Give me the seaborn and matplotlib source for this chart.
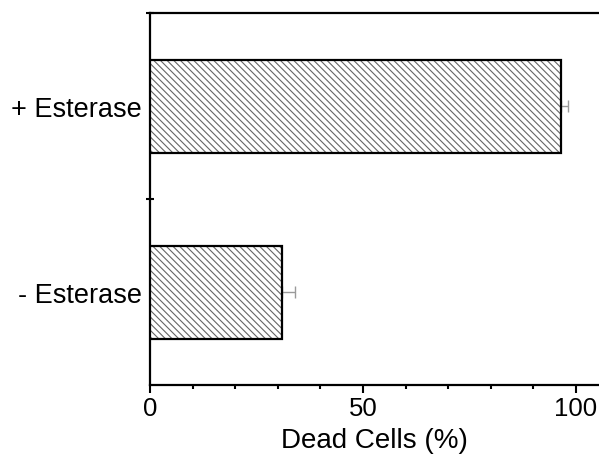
import matplotlib
matplotlib.use("Agg")
import matplotlib.pyplot as plt
import matplotlib.patches as mpatches
import seaborn as sns
import pandas as pd
from matplotlib.ticker import FixedLocator, MultipleLocator

categories = ["+ Esterase", "- Esterase"]
dead_cells = [96.5, 31.0]
errors = [1.7, 3.0]
x_ticks = [0, 50, 100]

sns.set_theme(style="white")
plt.rcParams["font.family"] = ["Liberation Sans", "DejaVu Sans"]
plt.rcParams["hatch.linewidth"] = 0.8
plt.rcParams["text.color"] = "black"
plt.rcParams["axes.labelcolor"] = "black"
plt.rcParams["xtick.color"] = "black"
plt.rcParams["ytick.color"] = "black"

df = pd.DataFrame({"cond": categories, "val": dead_cells})

fig = plt.figure(figsize=(5.99, 4.64), dpi=100)
ax = fig.add_axes([150 / 599, 1 - 386 / 464, 1 - 150 / 599, (386 - 14) / 464])

sns.barplot(data=df, x="val", y="cond", orient="h", order=categories,
            color="white", width=0.5, edgecolor="#707070", linewidth=0,
            errorbar=None, ax=ax, zorder=3)
for p in list(ax.patches):
    p.set_hatch("\\\\\\\\\\")
    p.set_facecolor("white")
    p.set_edgecolor("#666666")
    p.set_linewidth(0)
    outline = mpatches.Rectangle(p.get_xy(), p.get_width(), p.get_height(),
                                 fill=False, edgecolor="black", linewidth=1.6,
                                 zorder=4)
    ax.add_patch(outline)

ypos = list(range(len(categories)))
ax.errorbar(dead_cells, ypos, xerr=[[0] * len(errors), errors], fmt="none",
            ecolor="#9a9a9a", elinewidth=1.0, capsize=4.5, capthick=1.0, zorder=2)

ax.set_xlim(0, 105.4)
ax.set_ylim(1.5, -0.5)
ax.set_xticks(x_ticks)
ax.set_xticklabels([str(t) for t in x_ticks], fontsize=18.5)
ax.xaxis.set_minor_locator(MultipleLocator(10))
ax.set_yticks(ypos)
ax.set_yticklabels(categories, fontsize=19.5)
ax.yaxis.set_minor_locator(FixedLocator([-0.5, 0.5]))
ax.tick_params(axis="x", which="major", direction="out", length=6, width=1.5,
               bottom=True, pad=2)
ax.tick_params(axis="x", which="minor", direction="out", length=3, width=1.5,
               bottom=True)
ax.tick_params(axis="y", which="major", length=0, pad=6)
ax.tick_params(axis="y", which="minor", direction="inout", length=6, width=1.5,
               left=True)
ax.set_xlabel("Dead Cells (%)", fontsize=20, labelpad=5)
ax.set_ylabel("")

for side in ["left", "bottom", "top"]:
    ax.spines[side].set_visible(True)
    ax.spines[side].set_color("black")
    ax.spines[side].set_linewidth(1.6)
ax.spines["right"].set_visible(False)
ax.set_facecolor("white")
fig.patch.set_facecolor("white")

fig.savefig("out.png", dpi=100)
